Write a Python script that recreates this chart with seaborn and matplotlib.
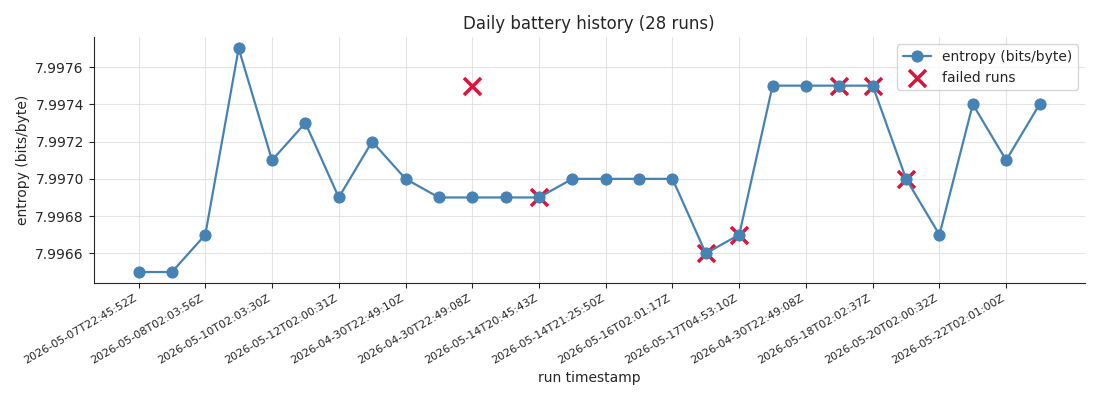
import seaborn as sns
import pandas as pd
import numpy as np
import matplotlib.pyplot as plt

run_idx = list(range(28))
entropy = [7.9965, 7.9965, 7.9967, 7.9977, 7.9971, 7.9973, 7.9969, 7.9972,
           7.9970, 7.9969, 7.9969, 7.9969, 7.9969, 7.9970, 7.9970, 7.9970,
           7.9970, 7.9966, 7.9967, 7.9975, 7.9975, 7.9975, 7.9975, 7.9970,
           7.9967, 7.9974, 7.9971, 7.9974]
failed_idx = [10, 12, 17, 18, 21, 22, 23]
failed_val = [7.9975, 7.9969, 7.9966, 7.9967, 7.9975, 7.9975, 7.9970]
tick_pos = list(range(0, 28, 2))
tick_labels = ["2026-05-07T22:45:52Z", "2026-05-08T02:03:56Z", "2026-05-10T02:03:30Z",
               "2026-05-12T02:00:31Z", "2026-04-30T22:49:10Z", "2026-04-30T22:49:08Z",
               "2026-05-14T20:45:43Z", "2026-05-14T21:25:50Z", "2026-05-16T02:01:17Z",
               "2026-05-17T04:53:10Z", "2026-04-30T22:49:08Z", "2026-05-18T02:02:37Z",
               "2026-05-20T02:00:32Z", "2026-05-22T02:01:00Z"]

df = pd.DataFrame({"run": run_idx, "entropy": entropy})
fails = pd.DataFrame({"run": failed_idx, "entropy": failed_val})

sns.set_style("ticks")
plt.rcParams['font.family'] = ['DejaVu Sans']

fig, ax = plt.subplots(figsize=(11, 4), dpi=100)
ax.scatter(fails["run"], fails["entropy"], marker="x", s=150, color="crimson",
           linewidths=2.5, label="failed runs", zorder=2)
sns.lineplot(data=df, x="run", y="entropy", marker="o", markersize=8, color="steelblue",
             markeredgecolor="steelblue", linewidth=1.6, label="entropy (bits/byte)", ax=ax, zorder=3)

ax.set_xticks(tick_pos)
ax.set_xticklabels(tick_labels, rotation=30, ha="right", fontsize=8)
ax.set_xlim(-1.35, 28.35)
ax.set_ylim(7.99644, 7.99776)
ax.yaxis.set_major_formatter(plt.FormatStrFormatter("%.4f"))
ax.grid(True, color="#dddddd", linewidth=0.8, alpha=0.8)
ax.set_axisbelow(True)
ax.set_xlabel("run timestamp")
ax.set_ylabel("entropy (bits/byte)")
ax.set_title("Daily battery history (28 runs)")

h, l = ax.get_legend_handles_labels()
order = [l.index("entropy (bits/byte)"), l.index("failed runs")]
ax.legend([h[i] for i in order], [l[i] for i in order], loc="upper right")
sns.despine(ax=ax)

fig.subplots_adjust(left=0.085, right=0.986, top=0.907, bottom=0.292)
fig.savefig("out.png")
